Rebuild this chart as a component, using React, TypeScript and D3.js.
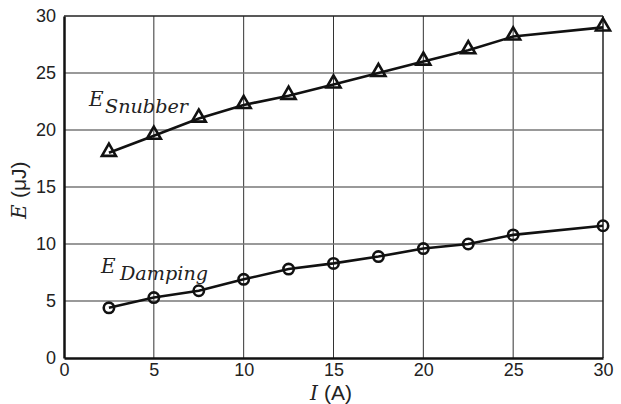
import React, { useEffect, useRef } from 'react';
import * as d3 from 'd3';

const current = [2.5, 5, 7.5, 10, 12.5, 15, 17.5, 20, 22.5, 25, 30];
const snubber = [18, 19.5, 21, 22.2, 23, 24, 25, 26, 27, 28.2, 29];
const damping = [4.4, 5.3, 5.9, 6.9, 7.8, 8.3, 8.9, 9.6, 10.0, 10.8, 11.6];
const xTicks = [0, 5, 10, 15, 20, 25, 30];
const yTicks = [0, 5, 10, 15, 20, 25, 30];

const App = () => {
  const ref = useRef<SVGSVGElement>(null);

  useEffect(() => {
    const svg = d3.select(ref.current);
    svg.selectAll('*').remove();

    const width = 621;
    const height = 404;
    const margin = { left: 64, right: 18, top: 16, bottom: 46 };

    const x = d3.scaleLinear().domain([0, 30]).range([margin.left, width - margin.right]);
    const y = d3.scaleLinear().domain([0, 30]).range([height - margin.bottom, margin.top]);

    svg.attr('width', width).attr('height', height);
    svg.append('rect').attr('width', width).attr('height', height).attr('fill', '#fff');

    const sans = 'Liberation Sans, Arial, sans-serif';
    const serif = 'DejaVu Serif, Liberation Serif, serif';

    // grid
    svg.append('g')
      .selectAll('line')
      .data(xTicks.slice(1, -1))
      .enter()
      .append('line')
      .attr('x1', d => x(d)).attr('x2', d => x(d))
      .attr('y1', y(0)).attr('y2', y(30))
      .attr('stroke', '#333').attr('stroke-width', 1);

    svg.append('g')
      .selectAll('line')
      .data(yTicks.slice(1, -1))
      .enter()
      .append('line')
      .attr('x1', x(0)).attr('x2', x(30))
      .attr('y1', d => y(d)).attr('y2', d => y(d))
      .attr('stroke', '#777').attr('stroke-width', 1.5);

    // frame
    svg.append('line').attr('x1', x(0)).attr('x2', x(30)).attr('y1', y(30)).attr('y2', y(30))
      .attr('stroke', '#222').attr('stroke-width', 1.5);
    svg.append('line').attr('x1', x(30)).attr('x2', x(30)).attr('y1', y(0)).attr('y2', y(30))
      .attr('stroke', '#222').attr('stroke-width', 1.5);

    const xAxis = svg.append('g')
      .attr('transform', `translate(0,${y(0)})`)
      .call(d3.axisBottom(x).tickValues(xTicks).tickSize(0).tickPadding(5));
    const yAxis = svg.append('g')
      .attr('transform', `translate(${x(0)},0)`)
      .call(d3.axisLeft(y).tickValues(yTicks).tickSize(0).tickPadding(8));

    [xAxis, yAxis].forEach(g => {
      g.attr('font-family', sans).attr('font-size', 18);
      g.select('.domain').attr('stroke', '#111').attr('stroke-width', 2.5);
      g.selectAll('text').attr('fill', '#222');
    });

    const line = d3.line<number>()
      .x((d, i) => x(current[i]))
      .y(d => y(d));

    // snubber series
    svg.append('path')
      .datum(snubber)
      .attr('d', line)
      .attr('fill', 'none').attr('stroke', '#111').attr('stroke-width', 2.6);

    const tri = d3.symbol().type(d3.symbolTriangle).size(85);
    svg.append('g')
      .selectAll('path')
      .data(snubber)
      .enter()
      .append('path')
      .attr('d', tri)
      .attr('transform', (d, i) => `translate(${x(current[i])},${y(d) - 1})`)
      .attr('fill', 'none').attr('stroke', '#111').attr('stroke-width', 2.6);

    // damping series
    svg.append('path')
      .datum(damping)
      .attr('d', line)
      .attr('fill', 'none').attr('stroke', '#111').attr('stroke-width', 2.6);

    svg.append('g')
      .selectAll('circle')
      .data(damping)
      .enter()
      .append('circle')
      .attr('cx', (d, i) => x(current[i]))
      .attr('cy', d => y(d))
      .attr('r', 5.2)
      .attr('fill', 'none').attr('stroke', '#111').attr('stroke-width', 2.6);

    // annotations: E with an italic subscript
    const label = (px, py, main, subX, sub, subLen) => {
      svg.append('text')
        .attr('x', px).attr('y', py)
        .attr('font-family', serif).attr('font-style', 'italic').attr('font-size', 20)
        .attr('fill', '#222').text(main);
      svg.append('text')
        .attr('x', subX).attr('y', py + 7)
        .attr('font-family', serif).attr('font-style', 'italic').attr('font-size', 19)
        .attr('textLength', subLen).attr('lengthAdjust', 'spacingAndGlyphs')
        .attr('fill', '#222').text(sub);
    };
    label(89, 106, 'E', 105, 'Snubber', 83);
    label(101, 273, 'E', 120, 'Damping', 88);

    // axis titles
    svg.append('text')
      .attr('x', 310).attr('y', 400)
      .style('font-family', serif).style('font-style', 'italic').style('font-size', '20px')
      .attr('fill', '#222').text('I');
    svg.append('text')
      .attr('x', 324).attr('y', 400)
      .style('font-family', sans).style('font-size', '21px')
      .attr('fill', '#222').text('(A)');

    const yt = svg.append('g').attr('transform', `translate(26,${y(15)}) rotate(-90)`);
    yt.append('text')
      .attr('x', -32).attr('y', 0)
      .style('font-family', serif).style('font-style', 'italic').style('font-size', '20px')
      .attr('fill', '#222').text('E');
    yt.append('text')
      .attr('x', -11).attr('y', 0)
      .style('font-family', sans).style('font-size', '21px')
      .attr('fill', '#222').text('(μJ)');
  }, []);

  return (
    <div style={{ position: 'absolute', left: 0, top: 0 }}>
      <svg ref={ref} />
    </div>
  );
};

export default App;
